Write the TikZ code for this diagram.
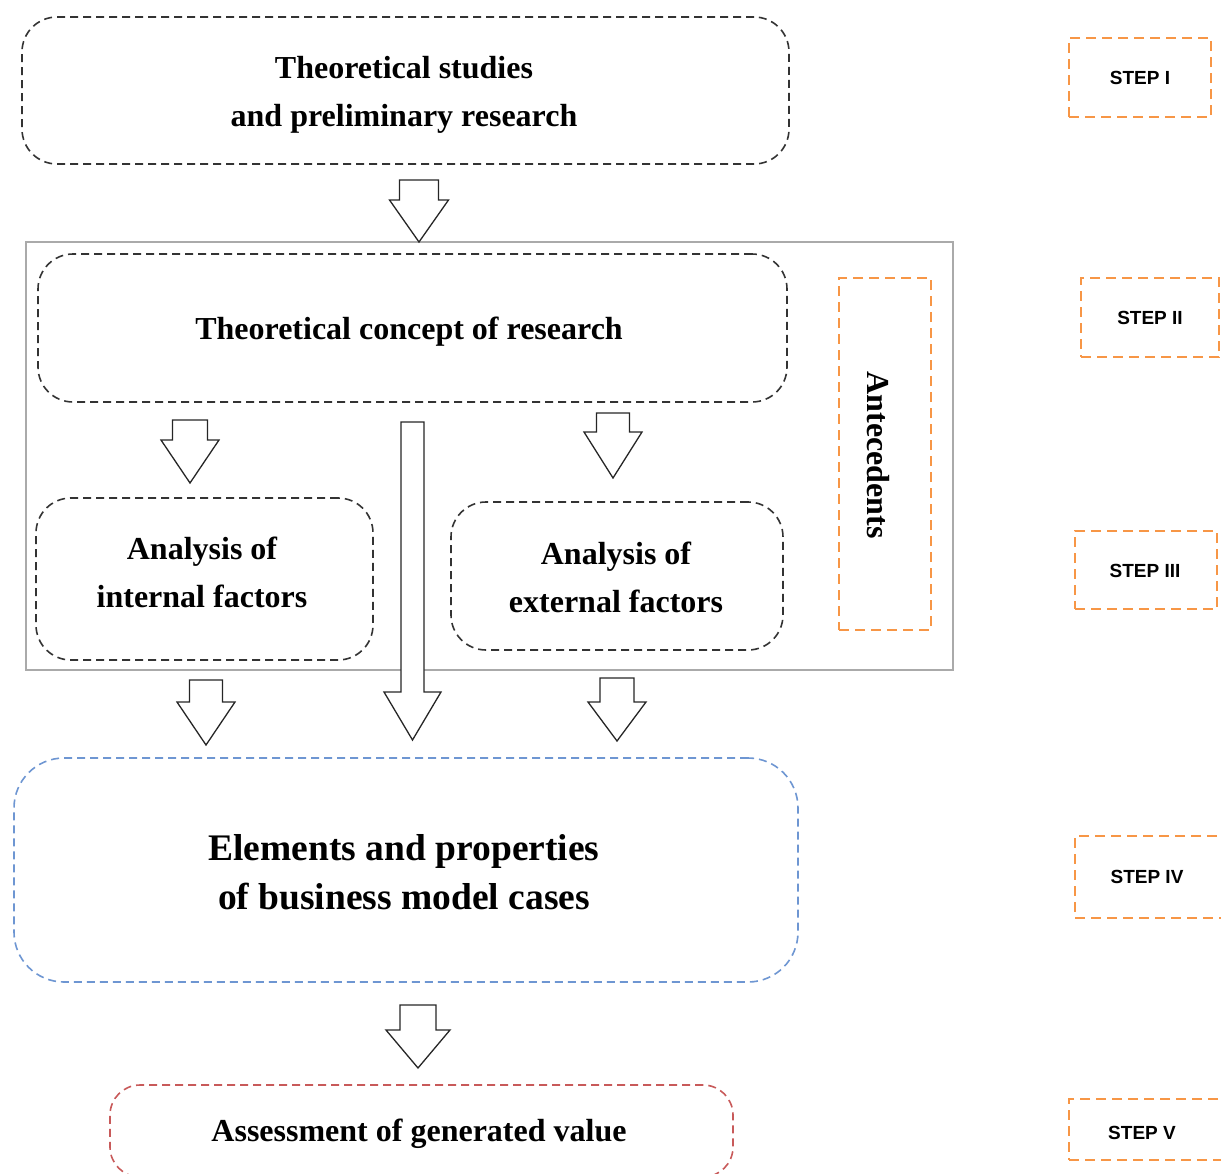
\documentclass[tikz,border=0pt]{standalone}
\usepackage{fontspec}
\setmainfont{Liberation Serif}
\newfontfamily\stepfont{Liberation Sans}
\definecolor{stepor}{RGB}{247,150,70}
\definecolor{bxblue}{RGB}{110,150,210}
\definecolor{bxred}{RGB}{200,90,90}
\definecolor{outgray}{RGB}{170,170,170}
\newcommand{\blockarr}[6]{%
  \draw[blk] ({#1-#2},#3) -- ({#1+#2},#3) -- ({#1+#2},#4) -- ({#1+#5},#4) -- (#1,#6) -- ({#1-#5},#4) -- ({#1-#2},#4) -- cycle;}
\tikzset{
  box/.style={draw=black!80, line width=1.6pt, dash pattern=on 8pt off 5pt,
    rounded corners=35pt, inner sep=0pt},
  txt/.style={align=center, inner sep=0pt, font={\bfseries\fontsize{32}{48}\selectfont}},
  bigtxt/.style={align=center, inner sep=0pt, font={\bfseries\fontsize{37.5}{49}\selectfont}},
  stepbox/.style={draw=stepor, line width=1.6pt, dash pattern=on 10pt off 6pt, inner sep=0pt},
  steptxt/.style={inner sep=0pt, font={\stepfont\bfseries\fontsize{19}{21}\selectfont}},
  blk/.style={draw=black!85, line width=1.3pt, fill=white, line join=miter},
}
\begin{document}
\begin{tikzpicture}[x=1pt,y=-1pt]
\useasboundingbox (0,0) rectangle (1221,1173);
% outer frame
\node[draw=outgray, line width=1.1pt, minimum width=927pt, minimum height=428pt, inner sep=0pt] (frame) at (489.5,456) {};
% boxes
\node[box, minimum width=767pt, minimum height=147pt] (b1) at (405.5,90.5) {};
\node[txt] (b1t) at (404,94.5) {Theoretical studies\\and preliminary research};
\node[box, minimum width=749pt, minimum height=148pt] (b2) at (412.5,328) {};
\node[txt] (b2t) at (409,332) {Theoretical concept of research};
\node[box, minimum width=337pt, minimum height=162pt] (bint) at (204.5,579) {};
\node[txt] (bintt) at (202,572) {Analysis of\\internal factors};
\node[box, minimum width=332pt, minimum height=148pt] (bext) at (617,576) {};
\node[txt] (bextt) at (616,577) {Analysis of\\external factors};
\node[box, draw=bxblue, rounded corners=50pt, minimum width=784pt, minimum height=224pt] (b4) at (406,870) {};
\node[bigtxt] (b4t) at (404,872) {Elements and properties\\of business model cases};
\node[box, draw=bxred, rounded corners=30pt, minimum width=623pt, minimum height=92pt] (b5) at (421.5,1131) {};
\node[txt] (b5t) at (419,1134) {Assessment of generated value};
% antecedents
\node[stepbox, minimum width=92pt, minimum height=352pt] (ant) at (885,454) {};
\node[rotate=-90, txt] (antt) at (878,455) {Antecedents};
% step boxes
\node[stepbox, minimum width=142pt, minimum height=79pt] (s1) at (1140,77.5) {};
\node[steptxt] (s1t) at (1140,78) {STEP I};
\node[stepbox, minimum width=138pt, minimum height=79pt] (s2) at (1150,317.5) {};
\node[steptxt] (s2t) at (1150,318) {STEP II};
\node[stepbox, minimum width=142pt, minimum height=78pt] (s3) at (1146,570) {};
\node[steptxt] (s3t) at (1145,571) {STEP III};
\node[stepbox, minimum width=150pt, minimum height=82pt] (s4) at (1150,877) {};
\node[steptxt] (s4t) at (1147,877) {STEP IV};
\node[stepbox, minimum width=156pt, minimum height=61pt] (s5) at (1147,1129.5) {};
\node[steptxt] (s5t) at (1142,1133) {STEP V};
% block arrows
\blockarr{419}{19.5}{180}{200}{29.5}{242}
\blockarr{190}{17.5}{420}{440}{29}{483}
\blockarr{613}{16.5}{413}{432}{29}{478}
\blockarr{412.5}{11.5}{422}{692}{28.5}{740}
\blockarr{206}{16.5}{680}{702}{29}{745}
\blockarr{617}{17}{678}{702}{29}{741}
\blockarr{418}{18}{1005}{1030}{32}{1068}
\end{tikzpicture}
\end{document}
